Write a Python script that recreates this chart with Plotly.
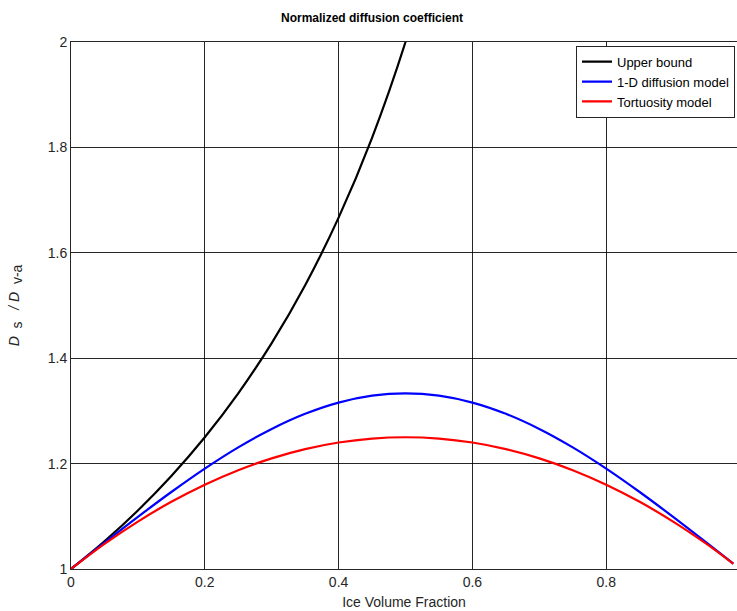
import plotly.graph_objects as go

# Ice volume fraction samples
x_vals = [0, 0.05, 0.1, 0.15, 0.2, 0.25, 0.3, 0.35, 0.4, 0.45, 0.5,
          0.55, 0.6, 0.65, 0.7, 0.75, 0.8, 0.85, 0.9, 0.95, 0.99]

upper_x = [0, 0.05, 0.1, 0.15, 0.2, 0.25, 0.3, 0.35, 0.4, 0.45, 0.5, 0.55]
upper_bound = [1.0, 1.0526, 1.1111, 1.1765, 1.25, 1.3333, 1.4286, 1.5385,
               1.6667, 1.8182, 2.0, 2.2222]

diffusion_1d = [1.0, 1.0499, 1.0989, 1.1461, 1.1905, 1.2308, 1.2658, 1.2945,
                1.3158, 1.3289, 1.3333, 1.3289, 1.3158, 1.2945, 1.2658,
                1.2308, 1.1905, 1.1461, 1.0989, 1.0499, 1.0100]

tortuosity = [1.0, 1.0475, 1.09, 1.1275, 1.16, 1.1875, 1.21, 1.2275, 1.24,
              1.2475, 1.25, 1.2475, 1.24, 1.2275, 1.21, 1.1875, 1.16, 1.1275,
              1.09, 1.0475, 1.0099]

x_ticks = [0, 0.2, 0.4, 0.6, 0.8]
x_tick_labels = ["0", "0.2", "0.4", "0.6", "0.8"]
y_ticks = [1, 1.2, 1.4, 1.6, 1.8, 2]
y_tick_labels = ["1", "1.2", "1.4", "1.6", "1.8", "2"]

fig = go.Figure()
fig.add_trace(go.Scatter(x=upper_x, y=upper_bound, mode="lines", name="Upper bound",
                         line=dict(color="black", width=2.2, shape="spline")))
fig.add_trace(go.Scatter(x=x_vals, y=diffusion_1d, mode="lines", name="1-D diffusion model",
                         line=dict(color="#0000ff", width=2.2, shape="spline")))
fig.add_trace(go.Scatter(x=x_vals, y=tortuosity, mode="lines", name="Tortuosity model",
                         line=dict(color="#ff0000", width=2.2, shape="spline")))

grid_col = "rgba(0,0,0,0.85)"
ylab = ("<i>D</i>&nbsp;&nbsp;<sub><span style='font-size:14px'>s</span></sub>"
        "&nbsp;&nbsp;&nbsp;<i>/ D</i>&nbsp;&nbsp;<sub><span style='font-size:14px'>v-a</span></sub>")
fig.update_layout(
    width=737, height=611,
    margin=dict(l=71, r=0, t=42, b=42, autoexpand=False),
    paper_bgcolor="white", plot_bgcolor="white",
    font=dict(family="Liberation Sans, Arial, sans-serif", size=14, color="#262626"),
    title=dict(text="<b>Normalized diffusion coefficient</b>", x=372 / 737, xanchor="center",
               y=1 - 18 / 611, yanchor="middle",
               font=dict(size=12, color="black")),
    showlegend=True,
    legend=dict(x=0.997, y=0.993, xanchor="right", yanchor="top",
                bgcolor="white", bordercolor="#262626", borderwidth=1,
                font=dict(size=13, color="black"), tracegroupgap=0,
                itemwidth=30, entrywidth=182),
    xaxis=dict(range=[0, 0.9955], tickvals=x_ticks, ticktext=x_tick_labels,
               showgrid=True, gridcolor=grid_col, gridwidth=1, automargin=False,
               showline=True, linecolor="#262626", linewidth=1, mirror=True,
               ticks="inside", ticklen=5, tickcolor="#262626", zeroline=False,
               tickfont=dict(size=14),
               title=dict(text="Ice Volume Fraction", standoff=8, font=dict(size=14))),
    yaxis=dict(range=[1, 2], tickvals=y_ticks, ticktext=y_tick_labels,
               showgrid=True, gridcolor=grid_col, gridwidth=1, automargin=False,
               showline=True, linecolor="#262626", linewidth=1, mirror=True,
               ticks="inside", ticklen=5, tickcolor="#262626", zeroline=False,
               tickfont=dict(size=14),
               title=dict(text=ylab, standoff=24, font=dict(size=14))),
)

fig.write_html(
    "out.html",
    config={"displayModeBar": False},
    post_script="document.body.style.margin='0';"
                "document.documentElement.style.overflow='hidden';"
                "document.body.style.overflow='hidden';",
)
